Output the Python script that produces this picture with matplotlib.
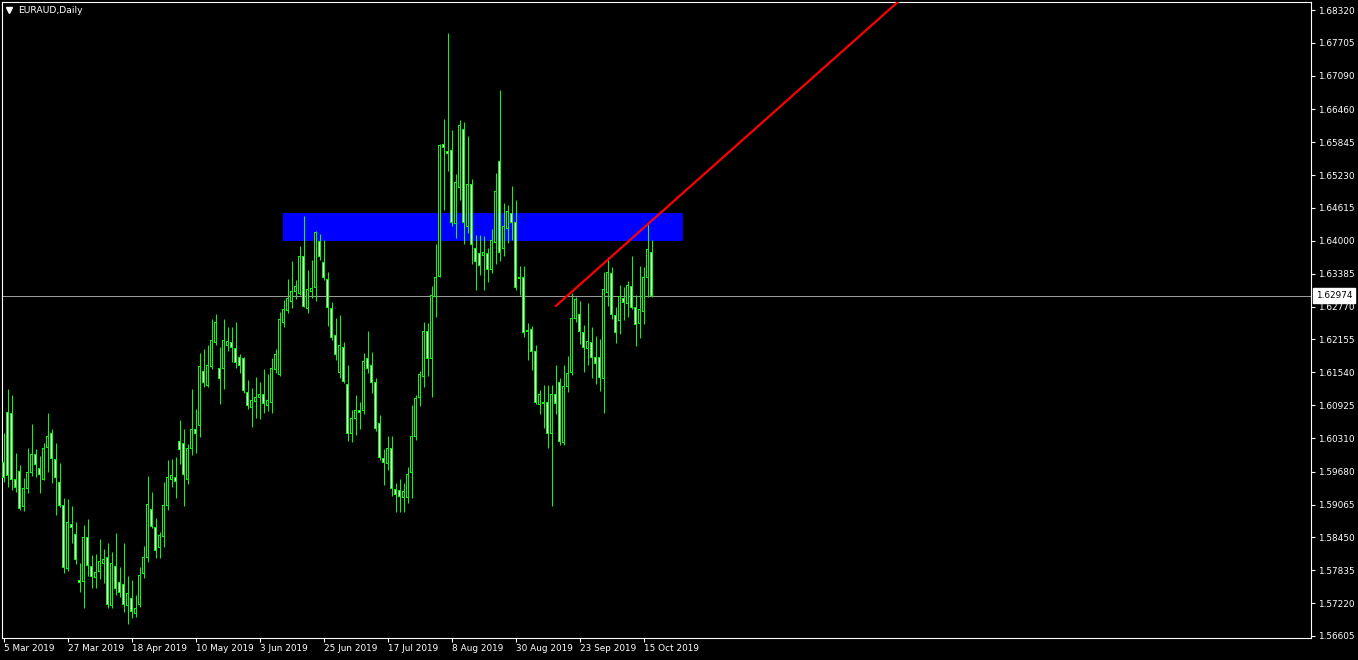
import matplotlib
matplotlib.use("Agg")
import matplotlib.pyplot as plt

# ---------------- data (EURAUD daily, bar 0 = 5 Mar 2019) ----------------
opens = [1.5986, 1.6078, 1.6076, 1.5954, 1.5969, 1.5902, 1.5937, 1.5966, 1.6001, 1.5973,
         1.5954, 1.6014, 1.6039, 1.5990, 1.5947, 1.5904, 1.5786, 1.5870, 1.5851, 1.5765,
         1.5762, 1.5844, 1.5790, 1.5770, 1.5782, 1.5797, 1.5808, 1.5717, 1.5790, 1.5760,
         1.5756, 1.5717, 1.5730, 1.5702, 1.5720, 1.5778, 1.5808, 1.5898, 1.5863, 1.5827,
         1.5846, 1.5904, 1.5954, 1.5958, 1.6025, 1.6020, 1.5954, 1.6012, 1.6046, 1.6055,
         1.6156, 1.6130, 1.6164, 1.6209, 1.6162, 1.6162, 1.6205, 1.6209, 1.6199, 1.6181,
         1.6179, 1.6117, 1.6089, 1.6100, 1.6106, 1.6112, 1.6091, 1.6097, 1.6160, 1.6149,
         1.6248, 1.6269, 1.6287, 1.6306, 1.6302, 1.6370, 1.6274, 1.6306, 1.6312, 1.6398,
         1.6359, 1.6327, 1.6273, 1.6222, 1.6153, 1.6201, 1.6132, 1.6040, 1.6068, 1.6082,
         1.6082, 1.6179, 1.6166, 1.6134, 1.6059, 1.5992, 1.5984, 1.6012, 1.5935, 1.5932,
         1.5919, 1.5919, 1.5966, 1.6033, 1.6106, 1.6147, 1.6231, 1.6179, 1.6295, 1.6334,
         1.6581, 1.6568, 1.6570, 1.6432, 1.6499, 1.6609, 1.6426, 1.6506, 1.6385, 1.6377,
         1.6372, 1.6377, 1.6347, 1.6396, 1.6549, 1.6385, 1.6424, 1.6451, 1.6434, 1.6329,
         1.6331, 1.6231, 1.6235, 1.6192, 1.6093, 1.6095, 1.6097, 1.6040, 1.6112, 1.6134,
         1.6022, 1.6127, 1.6153, 1.6255, 1.6263, 1.6228, 1.6199, 1.6209, 1.6181, 1.6181,
         1.6143, 1.6304, 1.6338, 1.6261, 1.6250, 1.6293, 1.6282, 1.6314, 1.6276, 1.6246,
         1.6267, 1.6332, 1.6379]
highs = [1.6040, 1.6123, 1.6112, 1.6003, 1.5981, 1.5956, 1.6012, 1.6057, 1.6010, 1.5997,
         1.6022, 1.6078, 1.6048, 1.6022, 1.5984, 1.5919, 1.5917, 1.5904, 1.5874, 1.5797,
         1.5868, 1.5879, 1.5812, 1.5814, 1.5842, 1.5823, 1.5835, 1.5818, 1.5853, 1.5790,
         1.5835, 1.5772, 1.5765, 1.5737, 1.5790, 1.5829, 1.5960, 1.5930, 1.5881, 1.5855,
         1.5949, 1.5990, 1.5992, 1.5995, 1.6065, 1.6048, 1.6020, 1.6123, 1.6085, 1.6190,
         1.6198, 1.6205, 1.6254, 1.6263, 1.6201, 1.6254, 1.6238, 1.6238, 1.6248, 1.6188,
         1.6183, 1.6140, 1.6125, 1.6145, 1.6136, 1.6160, 1.6151, 1.6181, 1.6198, 1.6267,
         1.6289, 1.6329, 1.6362, 1.6327, 1.6390, 1.6447, 1.6345, 1.6364, 1.6418, 1.6413,
         1.6402, 1.6342, 1.6286, 1.6256, 1.6261, 1.6211, 1.6168, 1.6083, 1.6112, 1.6098,
         1.6190, 1.6231, 1.6192, 1.6143, 1.6074, 1.6010, 1.6035, 1.6035, 1.5947, 1.5954,
         1.5947, 1.5977, 1.6093, 1.6112, 1.6156, 1.6248, 1.6246, 1.6315, 1.6394, 1.6581,
         1.6628, 1.6789, 1.6607, 1.6525, 1.6626, 1.6622, 1.6596, 1.6516, 1.6411, 1.6411,
         1.6409, 1.6387, 1.6422, 1.6527, 1.6682, 1.6471, 1.6467, 1.6503, 1.6476, 1.6353,
         1.6353, 1.6246, 1.6241, 1.6205, 1.6121, 1.6130, 1.6130, 1.6130, 1.6168, 1.6143,
         1.6168, 1.6185, 1.6302, 1.6295, 1.6287, 1.6243, 1.6284, 1.6239, 1.6222, 1.6216,
         1.6342, 1.6370, 1.6351, 1.6276, 1.6317, 1.6314, 1.6325, 1.6372, 1.6299, 1.6353,
         1.6351, 1.6435, 1.6402]
lows = [1.5949, 1.5939, 1.5934, 1.5930, 1.5896, 1.5894, 1.5928, 1.5960, 1.5958, 1.5928,
        1.5952, 1.5967, 1.5947, 1.5887, 1.5902, 1.5779, 1.5782, 1.5835, 1.5795, 1.5743,
        1.5713, 1.5772, 1.5750, 1.5750, 1.5767, 1.5760, 1.5713, 1.5713, 1.5737, 1.5734,
        1.5705, 1.5683, 1.5694, 1.5696, 1.5715, 1.5769, 1.5799, 1.5863, 1.5807, 1.5807,
        1.5827, 1.5896, 1.5939, 1.5919, 1.5982, 1.5904, 1.5945, 1.5999, 1.6003, 1.6033,
        1.6127, 1.6127, 1.6160, 1.6205, 1.6095, 1.6123, 1.6194, 1.6173, 1.6162, 1.6153,
        1.6115, 1.6085, 1.6052, 1.6068, 1.6067, 1.6078, 1.6082, 1.6078, 1.6153, 1.6147,
        1.6239, 1.6265, 1.6274, 1.6291, 1.6299, 1.6276, 1.6265, 1.6293, 1.6287, 1.6364,
        1.6327, 1.6241, 1.6214, 1.6177, 1.6143, 1.6134, 1.6025, 1.6024, 1.6037, 1.6048,
        1.6076, 1.6153, 1.6115, 1.6044, 1.5990, 1.5943, 1.5971, 1.5922, 1.5893, 1.5893,
        1.5893, 1.5909, 1.5919, 1.6027, 1.6091, 1.6127, 1.6147, 1.6108, 1.6258, 1.6332,
        1.6458, 1.6531, 1.6428, 1.6405, 1.6476, 1.6394, 1.6415, 1.6357, 1.6308, 1.6336,
        1.6308, 1.6323, 1.6340, 1.6357, 1.6362, 1.6372, 1.6396, 1.6402, 1.6308, 1.6299,
        1.6220, 1.6177, 1.6158, 1.6095, 1.6076, 1.6050, 1.6012, 1.5904, 1.6076, 1.6018,
        1.6018, 1.6117, 1.6149, 1.6248, 1.6207, 1.6155, 1.6168, 1.6143, 1.6132, 1.6119,
        1.6078, 1.6278, 1.6254, 1.6209, 1.6226, 1.6252, 1.6257, 1.6272, 1.6203, 1.6218,
        1.6244, 1.6295, 1.6295]
closes = [1.5958, 1.5960, 1.5954, 1.5939, 1.5900, 1.5937, 1.5967, 1.6001, 1.5981, 1.5963,
          1.6012, 1.6033, 1.5992, 1.5958, 1.5904, 1.5788, 1.5872, 1.5863, 1.5803, 1.5760,
          1.5844, 1.5793, 1.5772, 1.5780, 1.5799, 1.5804, 1.5719, 1.5797, 1.5750, 1.5742,
          1.5719, 1.5740, 1.5707, 1.5712, 1.5773, 1.5808, 1.5906, 1.5865, 1.5820, 1.5848,
          1.5904, 1.5958, 1.5960, 1.5949, 1.6009, 1.5963, 1.6012, 1.6046, 1.6040, 1.6164,
          1.6134, 1.6166, 1.6214, 1.6248, 1.6143, 1.6214, 1.6211, 1.6201, 1.6173, 1.6166,
          1.6119, 1.6091, 1.6102, 1.6106, 1.6112, 1.6095, 1.6102, 1.6162, 1.6188, 1.6252,
          1.6271, 1.6293, 1.6306, 1.6315, 1.6370, 1.6278, 1.6308, 1.6310, 1.6415, 1.6370,
          1.6331, 1.6276, 1.6220, 1.6188, 1.6205, 1.6136, 1.6040, 1.6067, 1.6083, 1.6078,
          1.6175, 1.6162, 1.6134, 1.6048, 1.5994, 1.5986, 1.6012, 1.5937, 1.5926, 1.5921,
          1.5930, 1.5962, 1.6033, 1.6104, 1.6149, 1.6231, 1.6179, 1.6297, 1.6332, 1.6579,
          1.6574, 1.6564, 1.6435, 1.6510, 1.6615, 1.6435, 1.6506, 1.6394, 1.6362, 1.6353,
          1.6379, 1.6347, 1.6400, 1.6493, 1.6379, 1.6426, 1.6454, 1.6434, 1.6312, 1.6332,
          1.6228, 1.6233, 1.6192, 1.6097, 1.6112, 1.6098, 1.6040, 1.6113, 1.6095, 1.6025,
          1.6127, 1.6151, 1.6254, 1.6291, 1.6231, 1.6201, 1.6212, 1.6181, 1.6171, 1.6145,
          1.6308, 1.6340, 1.6263, 1.6228, 1.6295, 1.6284, 1.6317, 1.6276, 1.6243, 1.6271,
          1.6331, 1.6383, 1.6297]

date_labels = ["5 Mar 2019", "27 Mar 2019", "18 Apr 2019", "10 May 2019", "3 Jun 2019",
               "25 Jun 2019", "17 Jul 2019", "8 Aug 2019", "30 Aug 2019", "23 Sep 2019",
               "15 Oct 2019"]
date_label_step = 16  # bars between date labels

price_ticks = [1.68320, 1.67705, 1.67090, 1.66460, 1.65845, 1.65230, 1.64615, 1.64000,
               1.63385, 1.62770, 1.62155, 1.61540, 1.60925, 1.60310, 1.59680, 1.59065,
               1.58450, 1.57835, 1.57220, 1.56605]

current_price = 1.62974
title = "EURAUD,Daily"

# zone rectangle (bar index range, price range)
zone_bars = (69.85, 169.85)
zone_prices = (1.6400, 1.6452)

# trend line anchors (bar index, price) - drawn as a ray to the right
trend_p1 = (137.9, 1.6277)
trend_p2 = (165.1, 1.6458)

# ---------------- figure ----------------
W, H = 1358, 660
GREEN = "#00ff00"
fig = plt.figure(figsize=(W / 100, H / 100), dpi=100, facecolor="black")
left_px, right_px, top_px, bot_px = 2, 1311, 2, 638
ax = fig.add_axes([left_px / W, (H - bot_px) / H, (right_px - left_px) / W,
                   (bot_px - top_px) / H], facecolor="black")

ylo, yhi = 1.56567, 1.68470
ppb = 4.0
x0 = (left_px - 3.6) / ppb
x1 = (right_px - 3.6) / ppb
px_price = (yhi - ylo) / (bot_px - top_px)   # price per pixel

n = len(opens)
xs = list(range(n))

# zone rectangle (background)
ax.fill_between([zone_bars[0], zone_bars[1]], zone_prices[0], zone_prices[1],
                color="#0000ff", lw=0, zorder=1)

# current price line
ax.axhline(current_price, color="#a0a0a0", lw=0.7, zorder=2)

# wicks
ax.vlines(xs, lows, highs, color=GREEN, lw=0.75, zorder=3)

# bodies: solid green block, with a 1px inner line (black = bull, white = bear)
bottoms = [min(o, c) for o, c in zip(opens, closes)]
tops = [max(o, c) for o, c in zip(opens, closes)]
outer_b = [b - 0.5 * px_price for b in bottoms]
outer_h = [t - b + px_price for b, t in zip(bottoms, tops)]
ax.bar(xs, outer_h, bottom=outer_b, width=0.75, color=GREEN, linewidth=0, zorder=4)
in_x, in_b, in_h, in_c = [], [], [], []
for i, (o, c, b, t) in enumerate(zip(opens, closes, bottoms, tops)):
    if t - b > 1.2 * px_price:
        in_x.append(i)
        in_b.append(b + 0.5 * px_price)
        in_h.append(t - b - px_price)
        in_c.append("black" if c > o else "white")
ax.bar(in_x, in_h, bottom=in_b, width=0.25, color=in_c, linewidth=0, zorder=5)

# trend ray
slope = (trend_p2[1] - trend_p1[1]) / (trend_p2[0] - trend_p1[0])
x_far = 400
ax.plot([trend_p1[0], x_far], [trend_p1[1], trend_p1[1] + slope * (x_far - trend_p1[0])],
        color="#ff0000", lw=1.6, zorder=6, solid_capstyle="butt")

ax.set_xlim(x0, x1)
ax.set_ylim(ylo, yhi)

# axes styling
for s in ax.spines.values():
    s.set_color("white")
    s.set_linewidth(0.8)

FONT = "DejaVu Sans"
FS = 6.4
ax.yaxis.tick_right()
ax.set_yticks(price_ticks)
ax.set_yticklabels([f"{p:.5f}" for p in price_ticks], fontsize=FS, family=FONT)
ax.set_xticks([i * date_label_step for i in range(len(date_labels))])
ax.set_xticklabels(date_labels, fontsize=FS, family=FONT)
for lbl in ax.get_xticklabels():
    lbl.set_ha("left")
ax.tick_params(axis="both", colors="white", length=3, width=0.8, direction="out")
ax.tick_params(axis="y", pad=2)
ax.tick_params(axis="x", pad=1.5)

# current price label on the right axis
ax.annotate(f"{current_price:.5f}", xy=(1, current_price),
            xycoords=("axes fraction", "data"), xytext=(3.5, 0),
            textcoords="offset points", ha="left", va="center", color="black",
            fontsize=FS, family=FONT, annotation_clip=False,
            bbox=dict(boxstyle="square,pad=0.3", fc="white", ec="white"))

# title with small triangle
fig.text(18 / W, 1 - 10.5 / H, title, color="white", fontsize=FS + 0.3, family=FONT,
         va="center", ha="left")
ax.plot([(9 - left_px) / (right_px - left_px)], [1 - (9.5 - top_px) / (bot_px - top_px)],
        marker="v", color="white", ms=4, transform=ax.transAxes, clip_on=False,
        zorder=7, mec="white")

fig.savefig("out.png", dpi=100, facecolor="black")
